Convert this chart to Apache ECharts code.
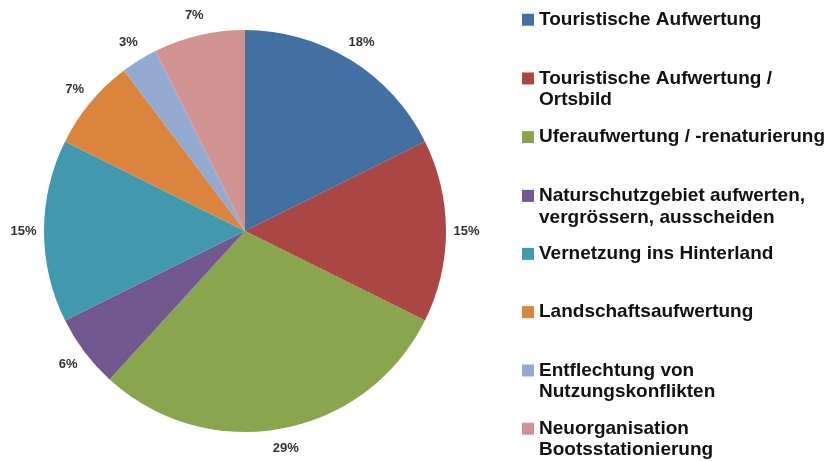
<!DOCTYPE html>
<html>
<head>
<meta charset="utf-8">
<script src="https://cdn.jsdelivr.net/npm/echarts@6/dist/echarts.min.js"></script>
<style>
html,body{margin:0;padding:0;background:#fff;}
#chart{width:827px;height:461px;}
</style>
</head>
<body>
<div id="chart"></div>
<script>
// Categories (legend names) and counts per category
const categories = [
  'Touristische Aufwertung',
  'Touristische Aufwertung / Ortsbild',
  'Uferaufwertung / -renaturierung',
  'Naturschutzgebiet aufwerten, vergrössern, ausscheiden',
  'Vernetzung ins Hinterland',
  'Landschaftsaufwertung',
  'Entflechtung von Nutzungskonflikten',
  'Neuorganisation Bootsstationierung'
];
const legendLabels = [
  'Touristische Aufwertung\n ',
  'Touristische Aufwertung /\nOrtsbild',
  'Uferaufwertung / -renaturierung\n ',
  'Naturschutzgebiet aufwerten,\nvergrössern, ausscheiden',
  'Vernetzung ins Hinterland\n ',
  'Landschaftsaufwertung\n ',
  'Entflechtung von\nNutzungskonflikten',
  'Neuorganisation\nBootsstationierung'
];
const counts = [12, 10, 20, 4, 10, 5, 2, 5];
const colors = ['#4270A2', '#AA4643', '#89A54E', '#71588F', '#4198AF', '#DB843D', '#93A9CF', '#D19392'];

const chart = echarts.init(document.getElementById('chart'), null, {renderer: 'canvas'});
const pieData = categories.map((c, i) => ({name: c, value: counts[i], itemStyle: {color: colors[i]}}));
const labelData = categories.map((c, i) => ({name: 'lbl' + i, value: counts[i]}));

function makeLegend(names, pos) {
  return Object.assign({
    orient: 'vertical',
    left: 522,
    padding: 0,
    itemWidth: 12,
    itemHeight: 42,
    itemGap: 15.7,
    icon: 'path://M0,0M0,4.25h12v12h-12zM12,42',
    data: names,
    formatter: function (name) { return legendLabels[categories.indexOf(name)]; },
    textStyle: {
      fontFamily: 'Liberation Sans, Arial, sans-serif',
      fontWeight: 'bold',
      fontSize: 19,
      lineHeight: 21.5,
      color: '#111111'
    },
    selectedMode: false
  }, pos);
}

chart.setOption({
  animation: false,
  backgroundColor: '#ffffff',
  legend: [
    makeLegend(categories.slice(0, 4), {top: 9}),
    makeLegend(categories.slice(4), {bottom: 0, itemGap: 15.3})
  ],
  series: [
    {
      type: 'pie',
      center: [245, 231],
      radius: [0, 201],
      startAngle: 90,
      clockwise: true,
      label: {show: false},
      labelLine: {show: false},
      data: pieData
    },
    {
      type: 'pie',
      center: [245, 231],
      radius: [201, 236],
      startAngle: 90,
      clockwise: true,
      silent: true,
      itemStyle: {color: 'rgba(0,0,0,0)'},
      label: {
        show: true,
        position: 'inside',
        fontFamily: 'Liberation Sans, Arial, sans-serif',
        fontWeight: 'bold',
        fontSize: 13,
        color: '#333333',
        formatter: function (p) { return Math.round(p.percent) + '%'; }
      },
      labelLine: {show: false},
      data: labelData
    }
  ]
});
</script>
</body>
</html>
